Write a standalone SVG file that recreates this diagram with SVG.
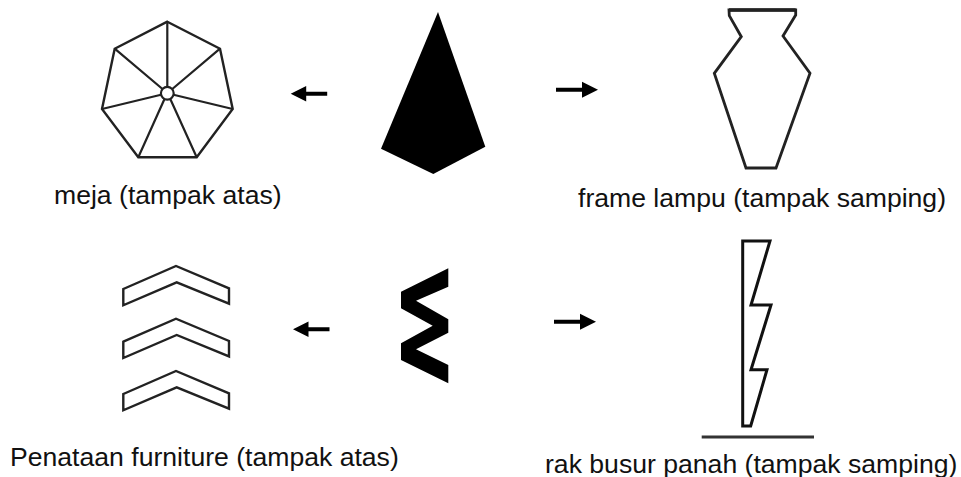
<svg xmlns="http://www.w3.org/2000/svg" width="961" height="477" viewBox="0 0 961 477">
<style>
.o{fill:none;stroke:#222;stroke-width:2.400;stroke-linejoin:miter}
.t{fill:none;stroke:#222;stroke-width:2.200}
.v{fill:none;stroke:#222;stroke-width:2.800}
.b{fill:none;stroke:#111;stroke-width:3}
.k{fill:#000}
text{font-family:"Liberation Sans",Arial,sans-serif;font-size:26.6px;fill:#111}
</style>
<defs>
<g id="arrowR"><path class="k" d="M0-2H26V-8L42 0 26 8V2H0Z"/></g>
<g id="arrowL"><path class="k" d="M0 0 15.500-7.700V-2H36.500V2H15.500V7.700Z"/></g>
<path id="chev" class="o" d="M123.300 289 176 266 229 288.300V303.700L176.700 282.300 123.300 305.300Z"/>
</defs>
<rect width="961" height="477" fill="#fff"/>
<g id="connectors">
<use href="#arrowL" x="290.700" y="93.700"/>
<use href="#arrowR" x="556" y="89.700"/>
<use href="#arrowL" x="293" y="329.300"/>
<use href="#arrowR" x="554" y="321.700"/>
</g>
<g id="source-top"><path class="k" d="M438 12 485.300 146.700 433.300 174 381 148.700Z"/></g>
<g id="meja">
<path class="o" d="M167.300 21.700 220 48.700 232.700 109 196.700 157.300H138.300L102 109 114.700 48.700Z"/>
<path class="t" d="M167.300 21.700V87M220 48.700 172.300 89M232.700 109 173.500 94.800M196.700 157.300 170.300 99M138.300 157.300 164.500 99M102 109 161 94.800M114.700 48.700 162.500 89"/>
<circle class="t" cx="167.300" cy="93.300" r="6.400"/>
</g>
<g id="frame-lampu">
<path class="v" d="M729 10H795.700V15L783 36 810 73.300 776 168H746L714.300 73.300 741.300 36.700 729.300 15.700Z"/>
<path d="M729 10H795.700" fill="none" stroke="#222" stroke-width="3.400"/>
</g>
<g id="source-bottom"><path class="k" d="M448.300 268.300V286.700L416 300.700 448.300 319.300V332.700L416 349.300 448.300 365V383.300L401 360V343.300L432.700 325.700 401 308.300V291.700Z"/></g>
<g id="penataan">
<use href="#chev"/>
<use href="#chev" y="52.700"/>
<use href="#chev" y="105"/>
</g>
<g id="rak">
<path class="b" d="M742.700 241H770L751 305H771L751 369.700H767L750.700 426H742.700Z"/>
<path d="M701.700 437H814" fill="none" stroke="#333" stroke-width="3"/>
</g>
<g id="labels">
<text x="54" y="203.500">meja (tampak atas)</text>
<text x="578" y="206.500">frame lampu (tampak samping)</text>
<text x="10" y="466">Penataan furniture (tampak atas)</text>
<text x="545" y="472.500">rak busur panah (tampak samping)</text>
</g>
</svg>
